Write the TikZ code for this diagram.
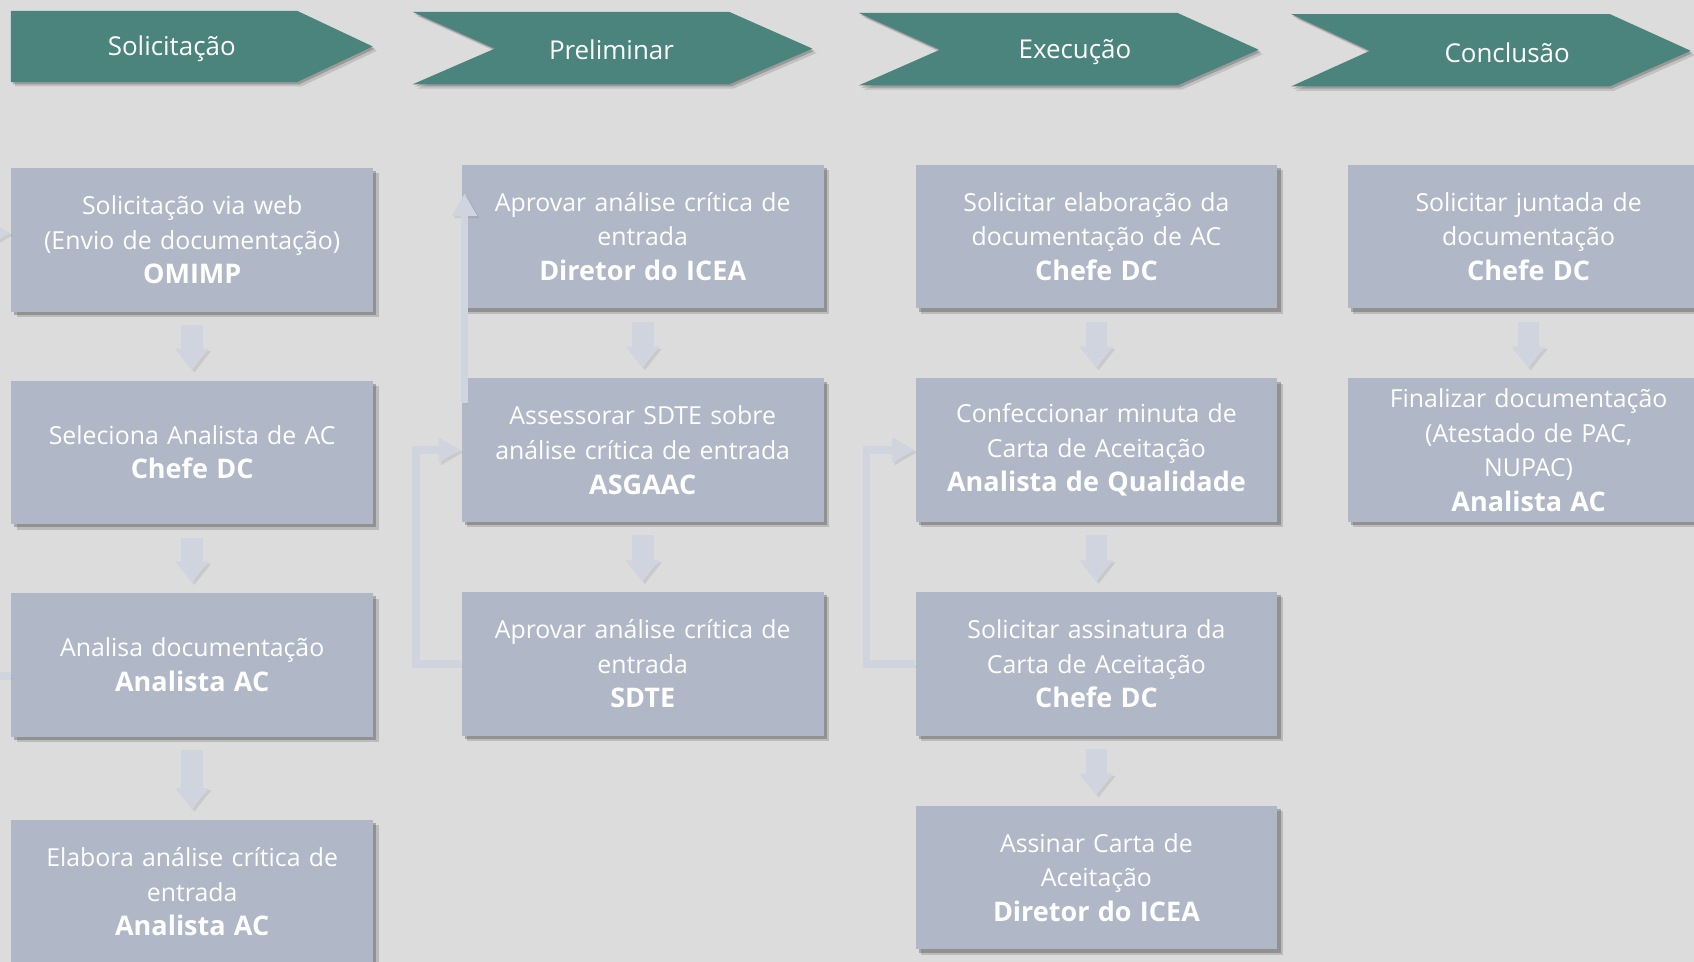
\documentclass[tikz,border=0pt]{standalone}
\usepackage{fontspec}
\setmainfont{Open Sans}
\usepackage{tikz}
\usetikzlibrary{arrows.meta,positioning,shadows}

\definecolor{bgcol}{HTML}{DCDCDC}
\definecolor{phasecol}{HTML}{4A847D}
\definecolor{taskcol}{HTML}{B0B7C7}
\definecolor{linkcol}{HTML}{CFD4DF}
\newcommand{\boss}{\fontsize{12.5}{16}\selectfont\bfseries}

\begin{document}
\begin{tikzpicture}[x=0.5pt,y=-0.5pt,node distance=32pt,
    task/.style={rectangle,fill=taskcol,text=white,align=center,
      text width=160pt,minimum width=167.5pt,minimum height=66.5pt,inner sep=3.75pt,
      font=\fontsize{11.5}{16}\selectfont,
      drop shadow={shadow xshift=2.5pt,shadow yshift=-2.5pt,opacity=.15,fill=black},
      drop shadow={shadow xshift=1.5pt,shadow yshift=-1.5pt,opacity=.3,fill=black!80}},
    phase/.style={fill=phasecol,
      drop shadow={shadow xshift=2pt,shadow yshift=-2pt,opacity=.12,fill=black},
      drop shadow={shadow xshift=1pt,shadow yshift=-1pt,opacity=.2,fill=black}},
    phasetext/.style={text=white,font=\fontsize{12}{14}\selectfont},
    linkshadow/.style={preaction={draw=black,opacity=.08,transform canvas={shift={(1pt,-1pt)}}}},
    down/.style={draw=linkcol,line width=10pt,-{Triangle[length=10pt,width=15pt]},
      shorten <=6pt,shorten >=4.5pt,linkshadow},
    back/.style={draw=linkcol,line width=3.5pt,-{Triangle[length=10.5pt,width=11pt]},linkshadow}]

  \fill[bgcol] (0,0) rectangle (1568,890);
  \useasboundingbox (0,0) rectangle (1568,890);

  % phases
  \fill[phase] (10,10) -- (275,10) -- (345,43) -- (275,76) -- (10,76) -- cycle;
  \fill[phase] (382,11) -- (675,11) -- (752,45) -- (675,78) -- (382,78) -- (458,45) -- cycle;
  \fill[phase] (795,12) -- (1090,12) -- (1165,46) -- (1090,79) -- (795,79) -- (870,46) -- cycle;
  \fill[phase] (1195,13) -- (1490,13) -- (1565,47) -- (1490,80) -- (1195,80) -- (1268,47) -- cycle;
  \node[phasetext] (p1) at (159,45) {Solicitação};
  \node[phasetext] (p2) at (566,46) {Preliminar};
  \node[phasetext] (p3) at (995,48) {Execução};
  \node[phasetext] (p4) at (1395,49) {Conclusão};

  % Solicitacao
  \node[task,anchor=north west] (s1) at (10,155)
    {Solicitação via web\\(Envio de documentação)\\{\boss OMIMP}};
  \node[task] (s2) [below=31.5pt of s1] {Seleciona Analista de AC\\{\boss Chefe DC}};
  \node[task] (s3) [below=31.5pt of s2] {Analisa documentação\\{\boss Analista AC}};
  \node[task] (s4) [below=38pt of s3] {Elabora análise crítica de\\entrada\\{\boss Analista AC}};

  % Preliminar
  \node[task,anchor=north west] (a1) at (427,152)
    {Aprovar análise crítica de\\entrada\\{\boss Diretor do ICEA}};
  \node[task] (a2) [below=of a1] {Assessorar SDTE sobre\\análise crítica de entrada\\{\boss ASGAAC}};
  \node[task] (a3) [below=of a2] {Aprovar análise crítica de\\entrada\\{\boss SDTE}};

  % Execucao
  \node[task,anchor=north west] (e1) at (847,152)
    {Solicitar elaboração da\\documentação de AC\\{\boss Chefe DC}};
  \node[task] (e2) [below=of e1] {Confeccionar minuta de\\Carta de Aceitação\\{\boss Analista de Qualidade}};
  \node[task] (e3) [below=of e2] {Solicitar assinatura da\\Carta de Aceitação\\{\boss Chefe DC}};
  \node[task] (e4) [below=of e3] {Assinar Carta de\\Aceitação\\{\boss Diretor do ICEA}};

  % Conclusao
  \node[task,anchor=north west] (c1) at (1247,152)
    {Solicitar juntada de\\documentação\\{\boss Chefe DC}};
  \node[task] (c2) [below=of c1] {Finalizar documentação\\(Atestado de PAC,\\NUPAC)\\{\boss Analista AC}};

  \draw[down] (s1) -- (s2);
  \draw[down] (s2) -- (s3);
  \draw[down] (s3) -- (s4);
  \draw[down] (a1) -- (a2);
  \draw[down] (a2) -- (a3);
  \draw[down] (e1) -- (e2);
  \draw[down] (e2) -- (e3);
  \draw[down] (e3) -- (e4);
  \draw[down] (c1) -- (c2);

  \draw[back] (a3.west) -- ++(-21pt,0) |- (a2.west);
  \draw[back] (e3.west) -- ++(-22.5pt,0) |- (e2.west);
  \draw[back] ([shift={(1.5pt,-11.5pt)}]a2.north west) -- ([shift={(1.5pt,-13.5pt)}]a1.north west);
  % stubs from the left edge
  \draw[back] ([shift={(-30pt,3pt)}]s1.west) -- ([yshift=3pt]s1.west);
  \draw[back,-] ([shift={(-20pt,-5pt)}]s3.west) -- ([yshift=-5pt]s3.west);
\end{tikzpicture}
\end{document}
